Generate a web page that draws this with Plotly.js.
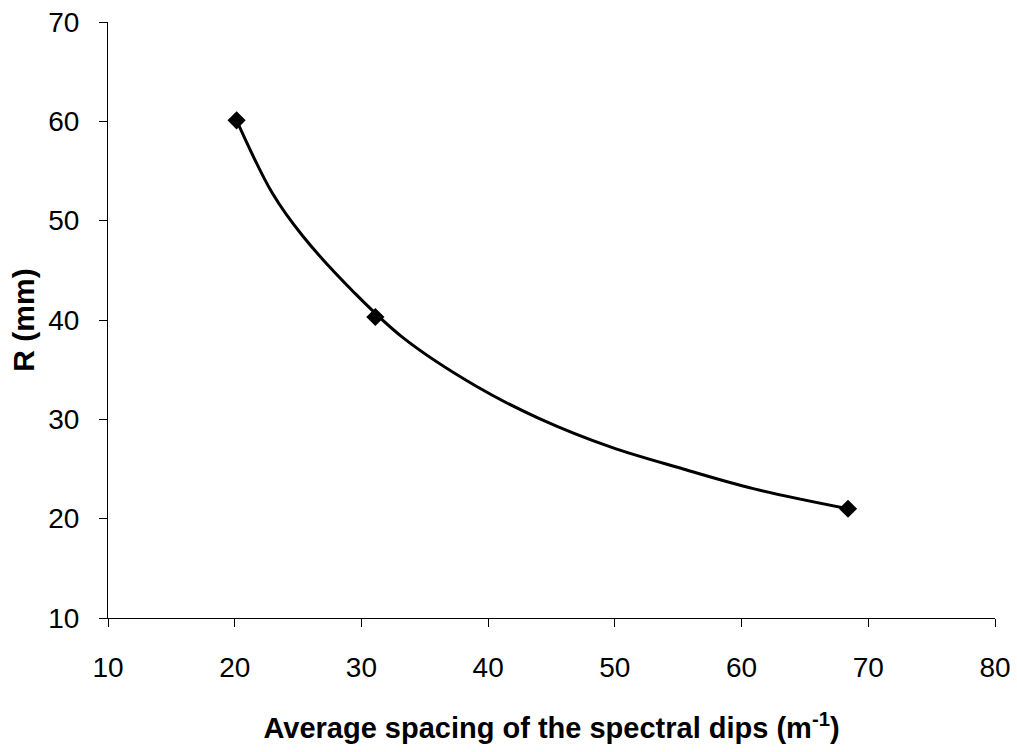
<!DOCTYPE html>
<html>
<head>
<meta charset="utf-8">
<script src="https://cdn.plot.ly/plotly-3.0.1.min.js"></script>
<style>html,body{margin:0;padding:0;background:#fff;}#chart{width:1017px;height:752px;}</style>
</head>
<body>
<div id="chart"></div>
<script>
// Measured data points
const spacing = [20.15, 31.1, 68.4];
const radius = [60.1, 40.3, 21.0];

// Trend curve
const fitX = [20.15, 23.0, 25.4, 29.4, 33.3, 39.1, 44.0, 49.7, 55.4, 61.0, 68.4];
const fitY = [60.1, 52.7, 48.4, 42.8, 38.2, 33.3, 30.1, 27.2, 25.0, 23.0, 21.0];

const xTitle = 'Average spacing of the spectral dips (m<sup>-1</sup>)';
const yTitle = 'R (mm)';

const font = 'Liberation Sans, Arial, sans-serif';

const traces = [
  {
    x: fitX, y: fitY, type: 'scatter', mode: 'lines',
    line: {color: '#000', width: 3, shape: 'spline', smoothing: 1},
    hoverinfo: 'skip', showlegend: false
  },
  {
    x: spacing, y: radius, type: 'scatter', mode: 'markers',
    marker: {symbol: 'diamond', size: 14, color: '#000'},
    showlegend: false
  }
];

const layout = {
  width: 1017, height: 752,
  paper_bgcolor: '#fff', plot_bgcolor: '#fff',
  margin: {l: 108, r: 22, t: 22, b: 134},
  showlegend: false,
  font: {family: font, color: '#000', size: 28},
  xaxis: {
    range: [10, 80], dtick: 10, tick0: 10,
    showline: true, linecolor: '#000', linewidth: 1,
    ticks: 'outside', ticklen: 8, tickcolor: '#000',
    ticklabelstandoff: 16,
    showgrid: false, zeroline: false,
    tickfont: {family: font, size: 28, color: '#000'},
    title: {text: xTitle, font: {family: font, size: 29, color: '#000', weight: 'bold'}, standoff: 36},
    automargin: false
  },
  yaxis: {
    range: [10, 70], dtick: 10, tick0: 10,
    showline: true, linecolor: '#000', linewidth: 1,
    ticks: 'outside', ticklen: 8, tickcolor: '#000',
    ticklabelstandoff: 14,
    showgrid: false, zeroline: false,
    tickfont: {family: font, size: 28, color: '#000'},
    title: {text: yTitle, font: {family: font, size: 30, color: '#000', weight: 'bold'}, standoff: 4},
    automargin: false
  }
};

Plotly.newPlot('chart', traces, layout, {displayModeBar: false, staticPlot: true});
</script>
</body>
</html>
